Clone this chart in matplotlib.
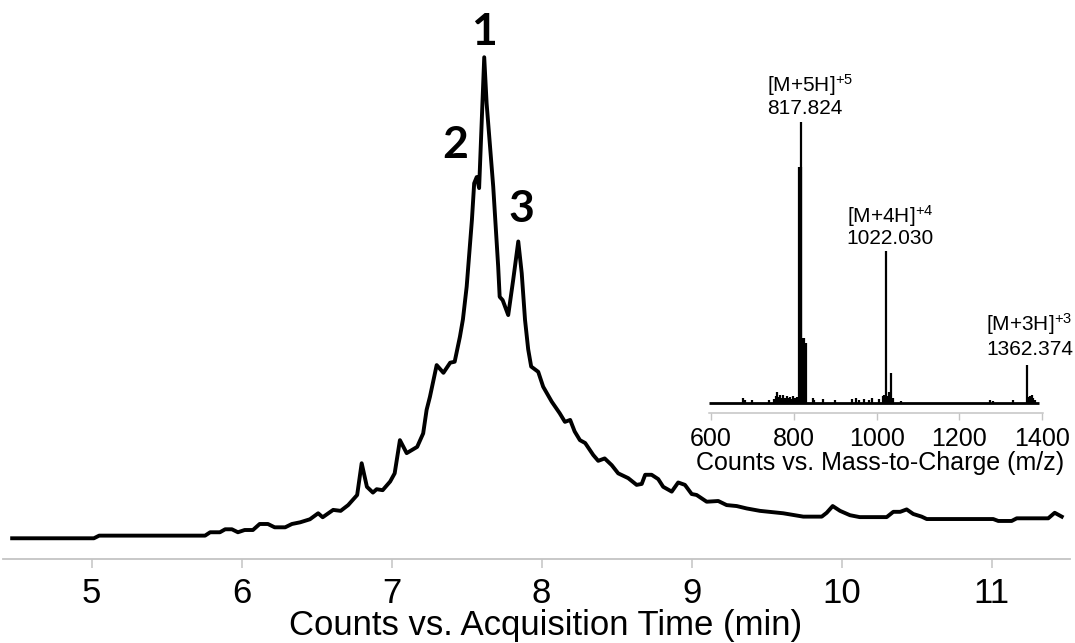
import matplotlib.pyplot as plt

plt.rcParams['font.family'] = ['Liberation Sans', 'DejaVu Sans']
plt.rcParams['mathtext.default'] = 'regular'

# === chromatogram (acquisition time in min, relative counts) ===
time_min = [4.47, 5.015, 5.05, 5.756, 5.79, 5.855, 5.89, 5.935, 5.975, 6.02,
            6.075, 6.12, 6.175, 6.22, 6.29, 6.335, 6.39, 6.455, 6.51, 6.54,
            6.61, 6.66, 6.71, 6.77, 6.80, 6.835, 6.875, 6.90, 6.94, 6.99,
            7.02, 7.055, 7.10, 7.17, 7.21, 7.233, 7.255, 7.30, 7.345, 7.39,
            7.42, 7.455, 7.475, 7.50, 7.535, 7.55, 7.567, 7.583, 7.617, 7.633,
            7.677, 7.71, 7.72, 7.74, 7.777, 7.81, 7.844, 7.867, 7.889, 7.91,
            7.93, 7.977, 8.01, 8.067, 8.12, 8.155, 8.19, 8.22, 8.255, 8.29,
            8.344, 8.377, 8.42, 8.467, 8.51, 8.577, 8.633, 8.667, 8.69, 8.733,
            8.777, 8.81, 8.867, 8.91, 8.955, 9.0, 9.033, 9.10, 9.177, 9.233,
            9.30, 9.367, 9.455, 9.61, 9.744, 9.867, 9.90, 9.94, 9.989, 10.055,
            10.12, 10.30, 10.344, 10.39, 10.433, 10.477, 10.533, 10.567, 11.01, 11.044,
            11.133, 11.167, 11.377, 11.42, 11.467]
counts = [0, 0, 0.55, 0.55, 1.25, 1.25, 1.87, 1.87, 1.25, 1.72,
          1.72, 2.97, 2.97, 2.28, 2.28, 2.97, 3.32, 3.95, 5.2, 4.37,
          5.9, 5.7, 6.9, 9.0, 15.6, 10.7, 9.5, 10.2, 10.0, 11.8,
          13.5, 20.4, 17.7, 19.0, 21.8, 26.7, 29.4, 36.0, 34.4, 36.5,
          36.7, 41.9, 45.5, 52.3, 66.2, 73.8, 75.1, 72.8, 100, 90.4,
          73.1, 56.5, 50.2, 49.5, 46.4, 53.7, 61.7, 55.1, 45.4, 39.3,
          35.7, 34.6, 31.5, 28.4, 26.0, 24.2, 24.6, 22.2, 20.4, 19.8,
          17.3, 16.1, 16.6, 15.2, 13.5, 12.5, 11.1, 11.3, 13.2, 13.2,
          12.3, 10.7, 9.7, 11.6, 11.1, 9.2, 9.0, 7.6, 7.75, 6.9,
          6.7, 6.2, 5.7, 5.2, 4.5, 4.5, 5.3, 6.7, 5.7, 4.8,
          4.4, 4.4, 5.5, 5.5, 6.0, 5.05, 4.5, 4.0, 4.0, 3.6,
          3.6, 4.15, 4.15, 5.3, 4.5]

peak_names = ["1", "2", "3"]
peak_time = [7.617, 7.422, 7.867]
peak_label_y = [102.6, 79.0, 65.8]
time_ticks = [5, 6, 7, 8, 9, 10, 11]

# === mass spectrum (m/z, relative counts) ===
ms_range = [596, 1392]
mz = [677, 682, 700, 740, 752, 757, 759, 763, 767, 771, 775, 779, 783, 787,
      791, 795, 799, 803, 807, 811,
      812.5, 814, 815.5, 816.5, 817.8, 819, 820.5, 822, 823.5, 825, 826.5, 828, 829.5,
      846, 850, 870, 900, 940, 950, 958, 970, 982, 990, 1005, 1014.5, 1019,
      1022.0, 1026, 1031, 1036, 1040, 1060, 1274, 1280, 1329,
      1362.4, 1366, 1370, 1374, 1378, 1383]
ms_counts = [1.5, 1.0, 0.8, 1.0, 1.2, 2.5, 3.8, 2.0, 2.8, 1.5, 2.6, 1.8, 2.4, 1.6,
             2.2, 1.4, 2.5, 1.8, 2.0, 1.6,
             84, 84, 84, 84, 100, 23, 23, 23, 23, 23, 21.3, 21.3, 21.3,
             1.8, 1.0, 1.3, 0.8, 1.2, 1.6, 1.0, 1.2, 1.0, 1.8, 1.4, 2.4, 2.7,
             54.2, 2.5, 3.9, 10.7, 1.5, 0.6, 0.8, 0.6, 0.8,
             13.4, 2.0, 2.5, 2.7, 1.5, 0.8]
mz_ticks = [600, 800, 1000, 1200, 1400]

ion_names = ["[M+5H]$^{+5}$", "[M+4H]$^{+4}$", "[M+3H]$^{+3}$"]
ion_values = ["817.824", "1022.030", "1362.374"]
ion_text_x = [736, 928, 1264]
ion_text_y = [110.9, 64.2, 25.7]
ion_value_y = [102.9, 56.5, 17.0]

grey = '#c4c4c4'

fig = plt.figure(figsize=(10.75, 6.43), dpi=100)

# === main chromatogram ===
ax = fig.add_axes([3 / 1075, 1 - 559.3 / 643, 1067 / 1075, 559.3 / 643])
ax.plot(time_min, counts, color='black', lw=2.8)
ax.set_xlim(4.409, 11.522)
ax.set_ylim(-4.37, 111.9)
for s in ['top', 'right', 'left']:
    ax.spines[s].set_visible(False)
ax.spines['bottom'].set_color(grey)
ax.spines['bottom'].set_linewidth(1.3)
ax.set_yticks([])
ax.set_xticks(time_ticks)
ax.tick_params(axis='x', direction='out', length=6.5, width=1.1, color=grey,
               labelcolor='black', labelsize=25, pad=6)
ax.patch.set_alpha(0)

for name, t, y in zip(peak_names, peak_time, peak_label_y):
    ax.text(t, y, name, family='Lato', weight='bold', fontsize=32,
            ha='center', va='baseline')

fig.text(546 / 1075, (643 - 635) / 643, "Counts vs. Acquisition Time (min)",
         fontsize=25, ha='center', va='baseline')

# === inset mass spectrum ===
left = 708.9
right = 1043.1
ax2 = fig.add_axes([left / 1075, 1 - 413.3 / 643, (right - left) / 1075, (413.3 - 60) / 643])
ax2.patch.set_alpha(0)
ax2.plot(ms_range, [0, 0], color='black', lw=2.0, solid_capstyle='butt')
ax2.vlines(mz, 0, ms_counts, color='black', lw=1.6)
ax2.set_xlim(595.2, 1402)
ax2.set_ylim(-3.78, 122.2)
for s in ['top', 'right', 'left']:
    ax2.spines[s].set_visible(False)
ax2.spines['bottom'].set_color(grey)
ax2.spines['bottom'].set_linewidth(1.1)
ax2.set_yticks([])
ax2.set_xticks(mz_ticks)
ax2.tick_params(axis='x', direction='out', length=5, width=1, color=grey,
                labelcolor='black', labelsize=18, pad=4.6)

for name, val, x, y1, y2 in zip(ion_names, ion_values, ion_text_x, ion_text_y, ion_value_y):
    ax2.text(x, y1, name, fontsize=15, ha='left', va='baseline')
    ax2.text(x, y2, val, fontsize=15, ha='left', va='baseline')

fig.text(880.5 / 1075, (643 - 470) / 643, "Counts vs. Mass-to-Charge (m/z)",
         fontsize=18, ha='center', va='baseline')

fig.savefig("out.png", dpi=100)
